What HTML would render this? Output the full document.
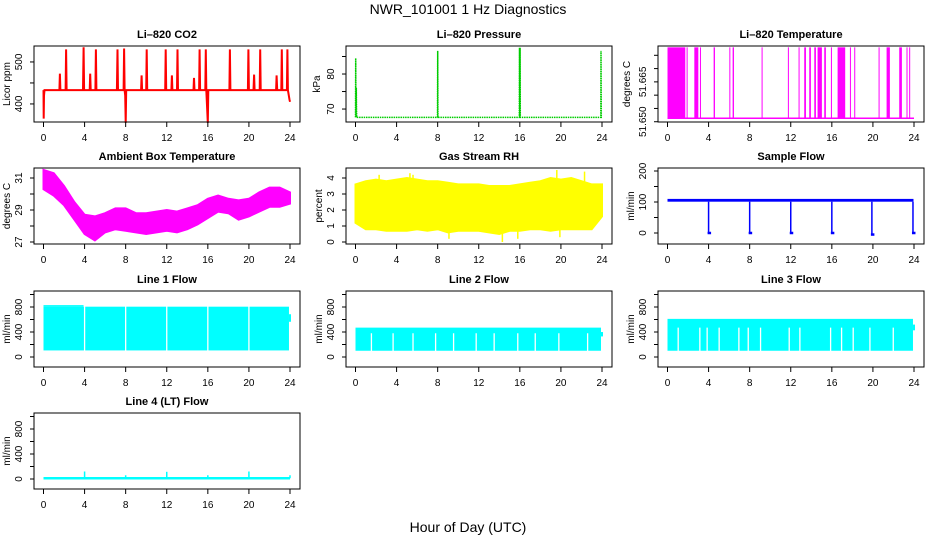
<!DOCTYPE html>
<html><head><meta charset="utf-8"><style>
html,body{margin:0;padding:0;background:#fff;}
svg{display:block;font-family:"Liberation Sans",Arial,sans-serif;}
</style></head><body>
<svg id="chart" width="936" height="540" xmlns="http://www.w3.org/2000/svg">
<rect width="936" height="540" fill="#fff"/>
<text x="468" y="14" text-anchor="middle" font-size="14">NWR_101001  1 Hz Diagnostics</text>
<text x="468" y="532" text-anchor="middle" font-size="14">Hour of Day (UTC)</text>
</svg>
<script>
// ---------- data ----------
const xTicks = [0,4,8,12,16,20,24];
const co2Hours = [0,0.02,0.05,0.1,0.2,1.55,1.6,1.65,2.15,2.2,2.25,3.85,3.9,3.95,4.5,4.55,4.6,5.05,5.1,5.15,7.15,7.2,7.25,7.8,7.85,7.9,7.95,8.0,8.05,9.5,9.55,9.6,10.0,10.05,10.1,11.85,11.9,11.95,12.45,12.5,12.55,13.0,13.05,13.1,14.6,14.65,14.7,15.15,15.2,15.25,15.75,15.8,15.85,16.0,16.05,16.1,18.1,18.15,18.2,19.9,19.95,20.0,20.45,20.5,20.55,21.05,21.1,21.15,22.65,22.7,22.75,23.15,23.2,23.25,23.7,23.75,23.8,23.95,24];
const co2Values = [433,365,420,433,433,433,472,433,433,530,433,433,535,433,433,472,433,433,530,433,433,530,433,433,532,433,420,355,433,433,468,433,433,530,433,433,530,433,433,468,433,433,530,433,433,462,433,433,530,433,433,530,433,355,433,433,433,530,433,433,530,433,433,470,433,433,530,433,433,468,433,433,530,433,433,530,433,410,405];
const presHours = [0,0.02,0.05,0.08,0.1,0.12,0.15,7.98,8.0,8.02,15.95,15.97,16.0,16.03,16.05,23.88,23.9,23.93,24];
const presValues = [67.6,84.5,67.6,76,70,67.6,67.6,67.6,86.6,67.6,67.6,87.5,67.6,87.5,67.6,67.6,86.6,67.6,67.6];
const ltStarts = [0.05,1.91,2.66,3.21,4.54,6.07,6.39,9.21,11.77,12.81,13.36,13.85,14.34,14.66,15.31,15.96,16.61,17.81,18.23,20.6,21.38,22.61,23.32,23.58];
const ltEnds   = [1.78,1.93,3.05,3.23,4.67,6.09,6.52,9.23,11.79,12.83,13.53,14.01,14.50,15.08,15.47,16.06,17.35,17.83,18.25,20.62,21.70,22.87,23.34,23.6];
const ltLow = 51.6513, ltHigh = 51.678;
const ambHours = [0,1,2,3,4,5,6,7,8,9,10,11,12,13,14,15,16,17,18,19,20,21,22,23,24];
const ambMax = [31.5,31.3,30.5,29.5,28.7,28.6,28.8,29.1,29.1,28.8,28.8,28.9,29.0,28.9,29.1,29.3,29.7,29.9,29.7,29.6,29.7,30.1,30.4,30.4,30.1];
const ambMin = [30.3,29.9,29.3,28.4,27.5,27.1,27.6,27.8,27.7,27.6,27.5,27.6,27.7,27.6,27.8,28.1,28.5,28.9,28.8,28.4,28.6,28.9,29.2,29.2,29.4];
const rhMax = [3.6,3.8,3.9,3.8,3.9,4.0,3.9,3.8,3.8,3.7,3.6,3.6,3.6,3.5,3.5,3.5,3.6,3.7,3.8,4.0,3.9,4.0,3.8,3.6,3.6];
const rhMin = [1.2,0.8,0.8,0.7,0.7,0.7,0.8,0.7,0.8,0.6,0.7,0.7,0.7,0.6,0.5,0.7,0.7,0.8,0.8,0.7,0.8,0.8,0.8,0.8,1.6];
const rhSpikeHours = [2.3,5.3,5.6,9.1,14.3,15.8,19.6,19.9,22.3];
const rhSpikeValues = [4.2,4.3,4.2,0.2,0.0,0.2,4.5,0.3,4.4];
const sfBandLow = 101, sfBandHigh = 110;
const sfDipHours = [4.0,8.0,12.0,16.0,19.9,23.9];
const sfDipValues = [0,0,0,0,-5,0];
const l1Low = 105, l1High = 805, l1FirstHigh = 830;
const l1Gaps = [4,8,12,16,20];
const l2Low = 100, l2High = 470, l2GapTop = 380;
const l2Gaps = [1.55,3.66,5.6,7.8,9.55,11.75,13.5,15.8,17.5,19.8,22.6];
const l3Low = 100, l3High = 610, l3GapTop = 470;
const l3Gaps = [1.04,3.15,3.86,5.03,6.95,7.86,9.06,11.85,12.89,15.88,16.95,18.08,19.71,21.98];
const l4Base = 12;
const l4SpikeHours = [4,8,12,16,20,24];
const l4SpikeValues = [120,60,115,60,120,60];

// ---------- layout ----------
const NS = "http://www.w3.org/2000/svg";
const svg = document.getElementById('chart');
const colL = [34,346,658], rowT = [46,168,291,413], PW = 266, PH = 76;
function mk(tag, attrs, parent){const e=document.createElementNS(NS,tag);for(const k in attrs)e.setAttribute(k,attrs[k]);(parent||svg).appendChild(e);return e;}

function panel(o){
  const L = colL[o.col], T = rowT[o.row], B = T+PH;
  const g = mk('g',{});
  
  
  const x = h => L+9.5 + h*246.5/24;
  const y = v => B - (v-o.ymin)/(o.ymax-o.ymin)*PH;
  const plot = mk('g',{},g);
  
  
  o.draw(plot, x, y);
  const box = mk('rect',{x:L,y:T,width:PW,height:PH,fill:'none',stroke:'#000','stroke-width':1},g);
  
  
  const tt = mk('text',{x:L+PW/2,y:T-8,'text-anchor':'middle','font-size':11,'font-weight':'bold'},g);
  tt.textContent = o.title;
  
  
  const xa = mk('g',{},g);
  
  
  xTicks.forEach(t=>{
    mk('line',{x1:x(t),x2:x(t),y1:B,y2:B+5,stroke:'#000'},xa);
    const tx = mk('text',{x:x(t),y:B+19,'text-anchor':'middle','font-size':10},xa);
    tx.textContent = t;
  });
  const ya = mk('g',{},g);
  
  
  const ax = L;
  o.ticks.forEach((t,i)=>{
    mk('line',{x1:ax-4,x2:ax,y1:y(t),y2:y(t),stroke:'#000'},ya);
    if(o.labels[i]!==''){
      const tx = mk('text',{x:0,y:0,'text-anchor':'middle','font-size':10,transform:`translate(${L-12},${y(t)}) rotate(-90)`},ya);
      tx.textContent = o.labels[i];
    }
  });
  const yt = mk('text',{x:0,y:0,'text-anchor':'middle','font-size':10,transform:`translate(${L-(o.ytOff||24)},${T+PH/2}) rotate(-90)`},g);
  yt.textContent = o.ytitle;
  
  
}
function poly(p, xs, ys, x, y, col, w, extra){
  const pts = xs.map((h,i)=>x(h).toFixed(1)+','+y(ys[i]).toFixed(1)).join(' ');
  return mk('polyline',Object.assign({points:pts,fill:'none',stroke:col,'stroke-width':w},extra||{}),p);
}
function band(p, xs, lo, hi, x, y, col){
  const up = xs.map((h,i)=>x(h).toFixed(1)+','+y(hi[i]).toFixed(1));
  const dn = xs.map((h,i)=>x(h).toFixed(1)+','+y(lo[i]).toFixed(1)).reverse();
  return mk('polygon',{points:up.concat(dn).join(' '),fill:col,stroke:col,'stroke-width':2},p);
}

panel({name:'co2-panel',title:'Li\u2013820 CO2',ytitle:'Licor ppm',col:0,row:0,ymin:357,ymax:538,ticks:[400,450,500],labels:['400','','500'],
  draw:(p,x,y)=>{ const e=poly(p,co2Hours,co2Values,x,y,'#ff0000',2);
    
     }});

panel({name:'pressure-panel',title:'Li\u2013820 Pressure',ytitle:'kPa',col:1,row:0,ymin:66.3,ymax:88,ticks:[70,75,80,85],labels:['70','','80',''],ytOff:26,
  draw:(p,x,y)=>{ const e=poly(p,presHours,presValues,x,y,'#00cc00',1.5,{'stroke-dasharray':'1.5,0.8'});
    
     }});

panel({name:'li820-temp-panel',title:'Li\u2013820 Temperature',ytitle:'degrees C',col:2,row:0,ymin:51.6499,ymax:51.6785,ticks:[51.650,51.655,51.660,51.665,51.670,51.675],labels:['51.650','','','51.665','',''],ytOff:28,
  draw:(p,x,y)=>{
    mk('line',{x1:x(0),x2:x(24),y1:y(ltLow),y2:y(ltLow),stroke:'#ff00ff','stroke-width':1.5},p);
    ltStarts.forEach((s,i)=>{
      const r = mk('rect',{x:x(s)-0.5,y:y(ltHigh),width:Math.max(1,x(ltEnds[i])-x(s)),height:y(ltLow)-y(ltHigh),fill:'#ff00ff'},p);
      
      
    });
  }});

panel({name:'ambient-temp-panel',title:'Ambient Box Temperature',ytitle:'degrees C',col:0,row:1,ymin:26.875,ymax:31.625,ticks:[27,28,29,30,31],labels:['27','','29','','31'],
  draw:(p,x,y)=>{ const e=band(p,ambHours,ambMin,ambMax,x,y,'#ff00ff');
    
     }});

panel({name:'rh-panel',title:'Gas Stream RH',ytitle:'percent',col:1,row:1,ymin:-0.125,ymax:4.625,ticks:[0,1,2,3,4],labels:['0','1','2','3','4'],
  draw:(p,x,y)=>{
    const e=band(p,ambHours,rhMin,rhMax,x,y,'#ffff00');
    
    
    rhSpikeHours.forEach((h,i)=>{
      const s=mk('line',{x1:x(h),x2:x(h),y1:y(2),y2:y(rhSpikeValues[i]),stroke:'#ffff00','stroke-width':1.5},p);
      
      
    });
  }});

panel({name:'sample-flow-panel',title:'Sample Flow',ytitle:'ml/min',col:2,row:1,ymin:-35.5,ymax:209.7,ticks:[0,50,100,150,200],labels:['0','','100','','200'],
  draw:(p,x,y)=>{
    const b=mk('rect',{x:x(0),y:y(sfBandHigh),width:x(23.95)-x(0),height:y(sfBandLow)-y(sfBandHigh),fill:'#0000ff'},p);
    
    
    sfDipHours.forEach((h,i)=>{
      const d=mk('line',{x1:x(h),x2:x(h),y1:y(sfBandLow),y2:y(sfDipValues[i]),stroke:'#0000ff','stroke-width':1.5},p);
      
      
      mk('line',{x1:x(h)-1,x2:x(h)+2.5,y1:y(sfDipValues[i]),y2:y(sfDipValues[i]),stroke:'#0000ff','stroke-width':2.5},p);
    });
  }});

function flowPanel(name,title,col,row,lo,hi,gaps,gapTop,firstHigh){
  panel({name,title,ytitle:'ml/min',col,row,ymin:-160,ymax:1056,ticks:[0,200,400,600,800,1000],labels:['0','','400','','800',''],
    draw:(p,x,y)=>{
      const b=mk('rect',{x:x(0),y:y(hi),width:x(23.9)-x(0),height:y(lo)-y(hi),fill:'#00ffff'},p);
      
      
      if(firstHigh){ mk('rect',{x:x(0),y:y(firstHigh),width:x(3.9)-x(0),height:y(hi)-y(firstHigh),fill:'#00ffff'},p); }
      mk('rect',{x:x(23.9),y:y(hi*0.85),width:x(24)-x(23.9)+1,height:y(hi*0.7)-y(hi*0.85),fill:'#00ffff'},p);
      gaps.forEach(h=>{
        const g=mk('line',{x1:x(h),x2:x(h),y1:y(gapTop),y2:y(lo)+1,stroke:'#ffffff','stroke-width':1.3},p);
        
        
      });
    }});
}
flowPanel('line1-flow-panel','Line 1 Flow',0,2,l1Low,l1High,l1Gaps,l1High+40,l1FirstHigh);
flowPanel('line2-flow-panel','Line 2 Flow',1,2,l2Low,l2High,l2Gaps,l2GapTop);
flowPanel('line3-flow-panel','Line 3 Flow',2,2,l3Low,l3High,l3Gaps,l3GapTop);

panel({name:'line4-flow-panel',title:'Line 4 (LT) Flow',ytitle:'ml/min',col:0,row:3,ymin:-160,ymax:1056,ticks:[0,200,400,600,800,1000],labels:['0','','400','','800',''],
  draw:(p,x,y)=>{
    const b=mk('line',{x1:x(0),x2:x(24),y1:y(l4Base),y2:y(l4Base),stroke:'#00ffff','stroke-width':2.5},p);
    
    
    l4SpikeHours.forEach((h,i)=>{
      const s=mk('line',{x1:x(h),x2:x(h),y1:y(l4Base),y2:y(l4SpikeValues[i]),stroke:'#00ffff','stroke-width':1.5},p);
      
      
    });
  }});
</script>
</body></html>
